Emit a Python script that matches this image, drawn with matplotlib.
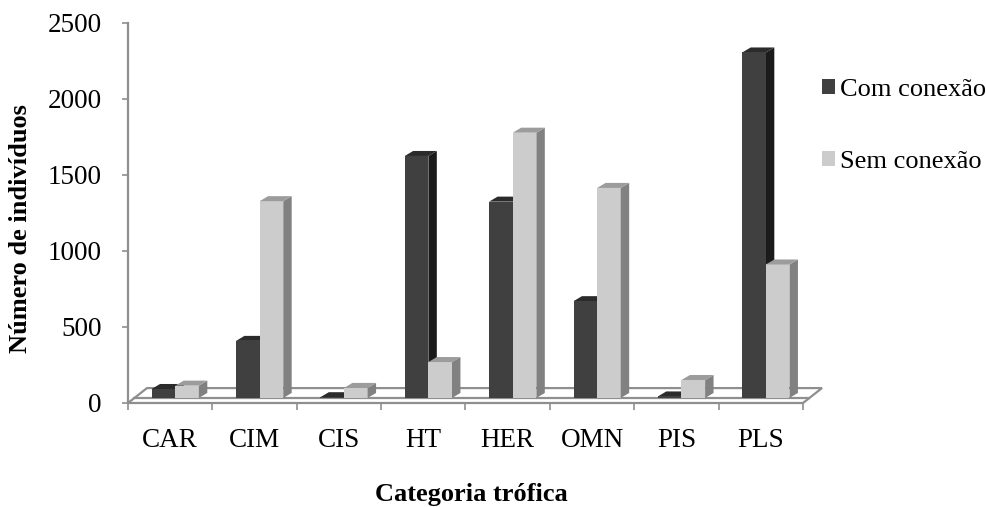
import matplotlib.pyplot as plt
import numpy as np
from matplotlib.patches import Polygon

categorias = ["CAR", "CIM", "CIS", "HT", "HER", "OMN", "PIS", "PLS"]
com_conexao = [59, 375, 5, 1590, 1290, 636, 10, 2270]
sem_conexao = [81, 1293, 66, 236, 1743, 1380, 118, 877]
y_ticks = [0, 500, 1000, 1500, 2000, 2500]

plt.rcParams['font.family'] = ['Liberation Serif', 'DejaVu Serif']

# cores (frente, lado, topo)
cor_com = ("#404040", "#1b1b1b", "#2b2b2b")
cor_sem = ("#cccccc", "#818181", "#9c9c9c")
cinza = "#8f8f8f"

# efeito 3D: deslocamentos em unidades de dados
dx_bar, dy_bar = 0.10, 33      # profundidade das barras
sx, sy = 0.06, 33              # barras sobre o "piso"
dx_piso, dy_piso = 0.225, 98   # profundidade do piso
w = 0.28

fig = plt.figure(figsize=(9.87, 5.07), dpi=100)
ax = fig.add_axes([128/987, 1 - 403/507, 675/987, 380.5/507])

x = np.arange(len(categorias))
n = len(categorias)

# piso
piso = Polygon([(-0.5, 0), (n - 0.5, 0), (n - 0.5 + dx_piso, dy_piso), (-0.5 + dx_piso, dy_piso)],
               closed=True, facecolor="white", edgecolor=cinza, lw=1.6, zorder=1, clip_on=False)
ax.add_patch(piso)
f = sy / dy_piso
ax.plot([-0.5 + dx_piso * f, n - 0.5 + dx_piso * f], [sy, sy], color=cinza, lw=1.6, zorder=1.1, clip_on=False)


def faces(barras, cores, z):
    for r in barras:
        x0, y0 = r.get_x(), r.get_y()
        x1, y1 = x0 + r.get_width(), y0 + r.get_height()
        lado = Polygon([(x1, y0), (x1 + dx_bar, y0 + dy_bar), (x1 + dx_bar, y1 + dy_bar), (x1, y1)],
                       closed=True, facecolor=cores[1], edgecolor="none", zorder=z, clip_on=False)
        topo = Polygon([(x0, y1), (x1, y1), (x1 + dx_bar, y1 + dy_bar), (x0 + dx_bar, y1 + dy_bar)],
                       closed=True, facecolor=cores[2], edgecolor="none", zorder=z, clip_on=False)
        ax.add_patch(lado)
        ax.add_patch(topo)


b1 = ax.bar(x + sx - w/2, com_conexao, width=w, bottom=sy, color=cor_com[0], zorder=2, clip_on=False,
            label="Com conexão")
faces(b1, cor_com, 1.9)
b2 = ax.bar(x + sx + w/2, sem_conexao, width=w, bottom=sy, color=cor_sem[0], zorder=3, clip_on=False,
            label="Sem conexão")
faces(b2, cor_sem, 3.1)

ax.set_xlim(-0.5, n - 0.5)
ax.set_ylim(0, 2500)
for s in ["top", "right"]:
    ax.spines[s].set_visible(False)
ax.spines["left"].set_color(cinza)
ax.spines["left"].set_linewidth(1.6)
ax.spines["bottom"].set_visible(False)

ax.set_yticks(y_ticks)
ax.set_xticks(x)
ax.set_xticklabels(categorias)
ax.set_xticks(np.arange(-0.5, n, 1), minor=True)
ax.tick_params(axis="y", length=4, width=1.2, color=cinza, labelsize=19.5, pad=15)
ax.tick_params(axis="x", which="major", length=0, labelsize=19.5, pad=18)
ax.tick_params(axis="x", which="minor", length=5, width=1.2, color=cinza)
ax.patch.set_visible(False)

fig.text(21/987, 1 - 229/507, "Número de indivíduos", rotation=90, ha="center", va="center",
         fontsize=19, fontweight="bold")
fig.text(471/987, 1 - 494/507, "Categoria trófica", ha="center", va="center",
         fontsize=19, fontweight="bold")

leg = fig.legend(handles=[b1, b2], loc="upper left", bbox_to_anchor=(798/987, 1 - 55/507),
                 frameon=False, fontsize=19, handlelength=0.5, handleheight=0.5,
                 handletextpad=0.2, labelspacing=1.9)

fig.savefig("out.png", dpi=100)
